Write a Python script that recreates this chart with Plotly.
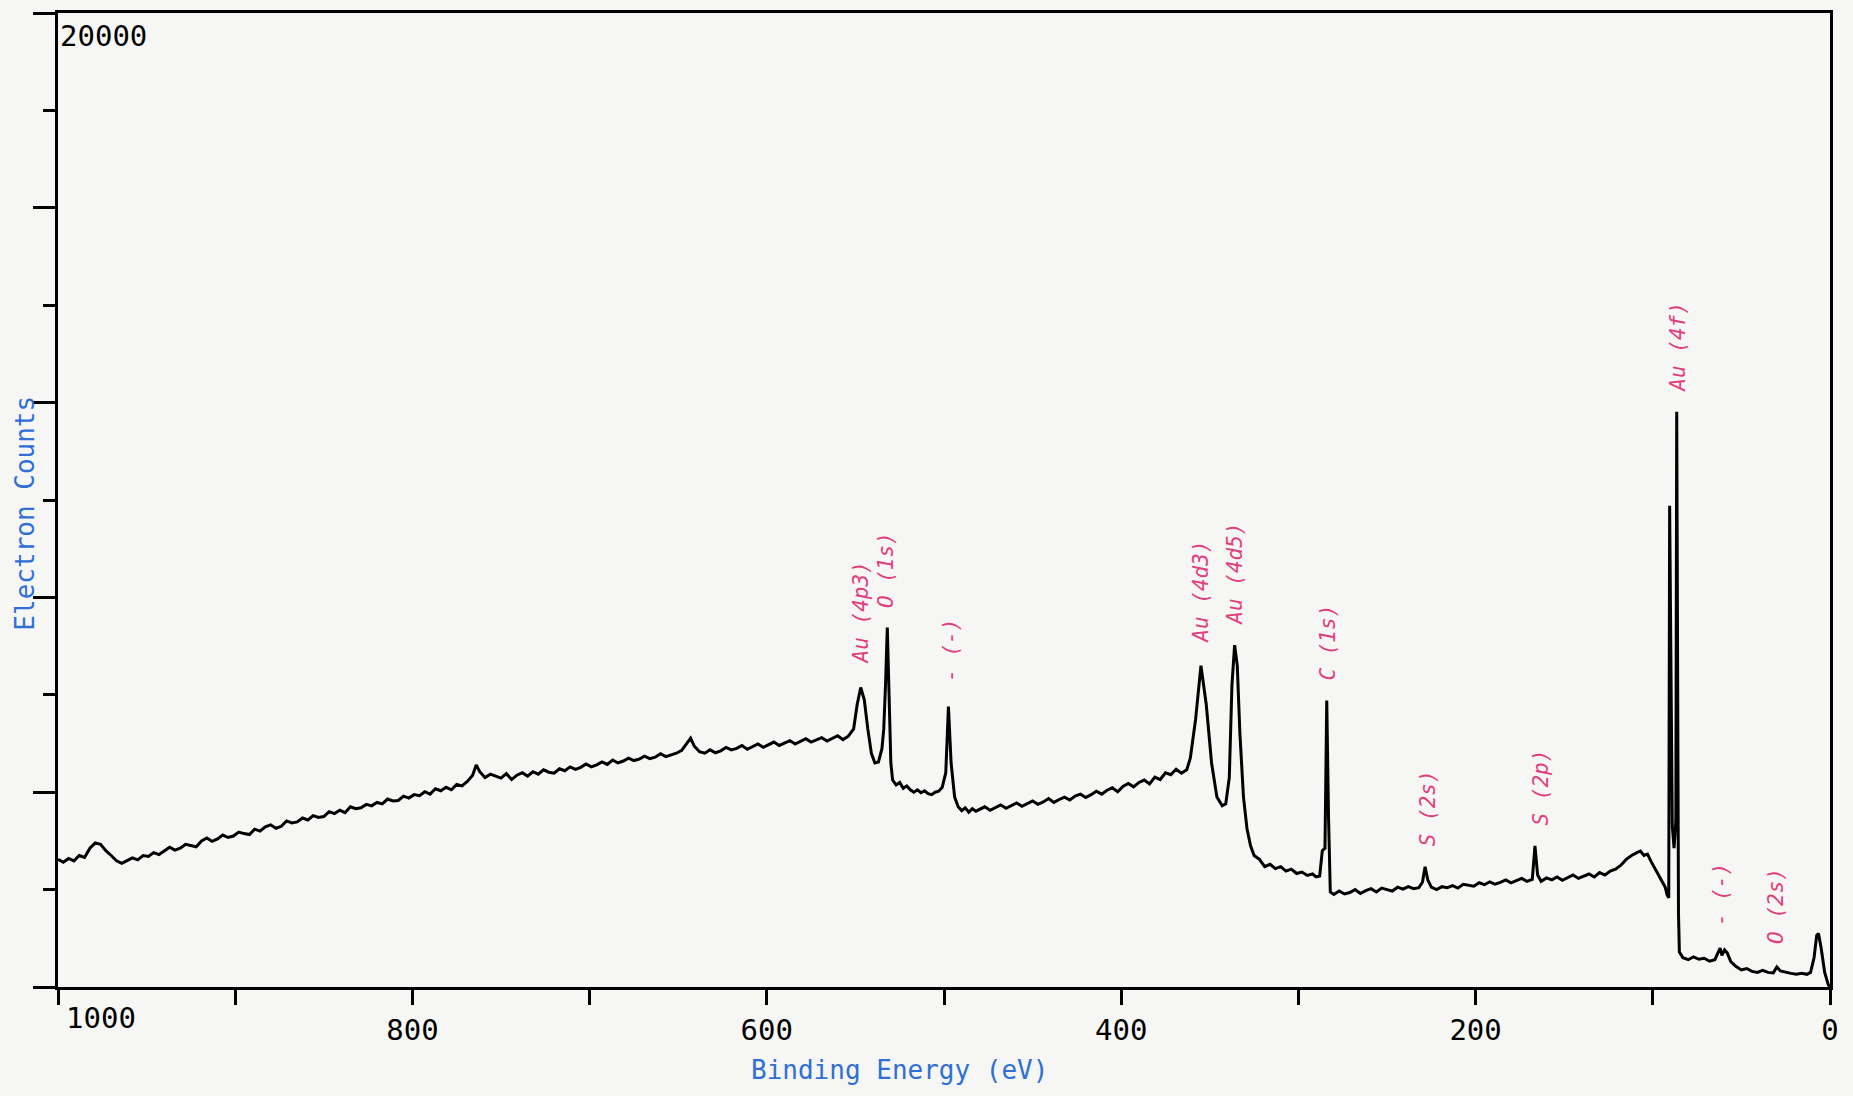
import plotly.graph_objects as go

# ---- spectrum data (binding energy in eV, electron counts) ----
energy = [
    1000, 997, 994, 991, 988, 985, 982, 979, 976, 973, 970, 967, 964,
    961, 958, 955, 952, 949, 946, 943, 940, 937, 934, 931, 928, 925, 922, 919, 916, 913, 910,
    907, 904, 901, 898, 895, 892, 889, 886, 883, 880, 877, 874, 871, 868, 865, 862, 859, 856,
    853, 850, 847, 844, 841, 838, 835, 832, 829, 826, 823, 820, 817, 814, 811, 808, 805, 802,
    799, 796, 793, 790, 787, 784, 781, 778, 775, 772, 769, 766, 764,
    762, 759, 756, 753, 750, 747, 744, 741, 738, 735, 732, 729, 726, 723, 720, 717, 714, 711,
    708, 705, 702, 699, 696, 693, 690, 687, 684, 681, 678, 675, 672, 669, 666, 663, 660, 657,
    654, 651, 648, 645, 643, 641, 638, 635, 632, 629, 626, 623, 620, 617, 614, 611, 608, 605,
    602, 599, 596, 593, 590, 587, 584, 581, 578, 575, 572, 569, 566, 563, 560, 557, 554,
    551, 549, 547, 545, 543, 541, 539, 537, 535, 534, 533, 532, 531, 530, 529, 527, 525, 523,
    521, 519, 517, 515, 513, 511, 509, 507, 505, 503, 501, 499, 497.5, 496, 494, 492, 490,
    488, 486, 484, 482, 480, 477, 474, 471, 468, 465, 462, 459, 456, 453, 450, 447, 444, 441,
    438, 435, 432, 429, 426, 423, 420, 417, 414, 411, 408, 405, 402, 399, 396, 393, 390, 387,
    384, 381, 378, 375, 372, 369, 366, 363,
    361, 358, 355, 352, 349, 346, 343, 341, 339, 337.5, 336, 334.5, 333, 331, 329, 327, 325,
    322, 319, 316, 313, 310, 307, 304, 301, 298, 295, 292, 290, 288, 286.5, 285, 284, 283,
    282, 280, 277, 274, 271, 268, 265, 262, 259, 256, 253, 250, 247, 244, 241, 238, 235, 232,
    230, 228.5, 227,
    225, 222, 219, 216, 213, 210, 207, 204, 201, 198, 195, 192, 189, 186, 183, 180, 177, 174, 171, 168,
    166.5, 165,
    163, 160, 157, 154, 151, 148, 145, 142, 139, 136, 133, 130, 127, 124,
    121, 118, 115, 112, 109, 107, 105, 103, 101, 99, 97, 95, 93, 92, 91, 90.5, 89, 88, 87, 86.5,
    86, 85.5, 85, 83, 80, 77, 74, 71, 68, 65, 62, 61, 59.5, 58, 56, 53, 50, 47, 44, 41,
    38, 35, 32, 30, 28, 25, 22, 19, 16, 13, 11, 9, 7.5, 6.5, 5, 3, 1, 0,
]
counts = [
    2620, 2560, 2640, 2590, 2700, 2660, 2850, 2960, 2930, 2800, 2700, 2590, 2540,
    2590, 2650, 2610, 2700, 2680, 2760, 2720, 2790, 2870, 2810, 2850, 2930, 2900, 2880, 3000, 3060, 2990, 3040,
    3120, 3070, 3100, 3180, 3150, 3130, 3240, 3200, 3290, 3330, 3260, 3300, 3410, 3370, 3390, 3470, 3430, 3520,
    3480, 3500, 3600, 3560, 3630, 3580, 3700, 3660, 3680, 3750, 3720, 3790, 3760, 3860, 3820, 3830, 3920, 3880,
    3950, 3930, 4010, 3960, 4070, 4030, 4100, 4050, 4160, 4130, 4220, 4350, 4560,
    4420, 4300, 4370, 4330, 4290, 4380, 4260, 4350, 4400, 4330, 4420, 4370, 4460, 4410, 4390, 4480, 4440, 4520,
    4470, 4510, 4580, 4520, 4560, 4620, 4570, 4660, 4600, 4640, 4700, 4650, 4680, 4740, 4690, 4720, 4790, 4730,
    4760, 4800, 4860, 5000, 5110, 4950, 4830, 4800, 4870, 4810, 4850, 4920, 4870, 4900, 4960, 4880, 4940, 4990,
    4920, 4970, 5030, 4960, 5010, 5060, 4990, 5040, 5100, 5030, 5070, 5120, 5050, 5100, 5160, 5080, 5150,
    5300, 5800, 6150, 5900, 5300, 4800, 4600, 4620, 4900, 5300, 6200, 7380, 6000, 4600, 4250, 4150, 4200, 4080,
    4130, 4050, 4000, 4050, 3990, 4030, 3970, 3950, 4000, 4020, 4100, 4400, 5760, 4600, 3900, 3700, 3620,
    3680, 3590, 3660, 3610, 3640, 3700, 3630, 3680, 3740, 3670, 3720, 3780, 3710, 3760, 3820, 3750, 3800, 3870,
    3790, 3850, 3900, 3840, 3920, 3960, 3890, 3950, 4020, 3960, 4040, 4090, 4010, 4120, 4180, 4110, 4200, 4250,
    4170, 4310, 4260, 4400, 4360, 4470, 4390, 4460,
    4700, 5500, 6600, 5800, 4600, 3900, 3720, 3760, 4300, 6200, 7020, 6600, 5200, 3900, 3250, 2900, 2700,
    2620, 2470, 2520, 2430, 2470, 2380, 2420, 2330, 2360, 2290, 2320, 2260, 2280, 2800, 2850, 5880, 3500,
    1950, 1900, 1970, 1910, 1940, 2000, 1920, 1980, 2020, 1950, 2030, 2000, 1970, 2050, 2010, 2060, 2020, 2040,
    2150, 2470, 2200,
    2050, 2000, 2060, 2040, 2080, 2030, 2110, 2090, 2070, 2140, 2100, 2160, 2110, 2150, 2200, 2140, 2190, 2230, 2170, 2210,
    2900, 2300,
    2170, 2240, 2200, 2260, 2190, 2250, 2300, 2230, 2280, 2320, 2260, 2350, 2300, 2380,
    2420, 2500, 2620, 2700, 2760, 2790, 2700, 2730, 2580, 2450, 2300, 2200, 2050, 1900, 1830, 9880, 3300, 2850, 3400, 11810,
    4000, 1500, 720, 600, 560, 620, 570, 590, 530, 560, 800, 650, 760, 700, 520, 420, 350, 380, 320, 300,
    340, 300, 290, 410, 330, 300, 280, 260, 280, 260, 300, 600, 1060, 1100, 800, 300, 50, 0,
]

# ---- peak labels ----
peak_names = ["Au (4p3)", "O (1s)", "- (-)", "Au (4d3)", "Au (4d5)", "C (1s)",
              "S (2s)", "S (2p)", "Au (4f)", "- (-)", "O (2s)"]
peak_energy = [546.6, 532.6, 496.5, 355, 336, 283.5, 226.7, 163.3, 85.8, 61.8, 30.4]
label_base = [6582, 7744, 6219, 7018, 7381, 6244, 2856, 3267, 12173, 1210, 847]

x_tick_vals = [800, 600, 400, 200, 0]
x_tick_text = ["800", "600", "400", "200", "0"]

FONT = "DejaVu Sans Mono, monospace"
BLUE = "#2f6fd6"
PINK = "#e23d7d"
BG = "#f6f6f4"

fig = go.Figure()
fig.add_trace(go.Scatter(x=energy, y=counts, mode="lines",
                         line=dict(color="black", width=3), showlegend=False,
                         hoverinfo="skip"))

annotations = []
for name, e, base in zip(peak_names, peak_energy, label_base):
    annotations.append(dict(x=e, y=base, xref="x", yref="y", text=name,
                            showarrow=False, textangle=-90,
                            xanchor="center", yanchor="bottom",
                            font=dict(family=FONT, size=21, color=PINK, style="italic")))

annotations += [
    dict(text="20000", xref="paper", yref="paper", x=0, y=1, xanchor="left", yanchor="top",
         xshift=0, yshift=-4, showarrow=False, font=dict(family=FONT, size=29, color="black")),
    dict(text="1000", xref="paper", yref="paper", x=0, y=0, xanchor="left", yanchor="top",
         xshift=6, yshift=-12, showarrow=False, font=dict(family=FONT, size=29, color="black")),
    dict(text="Binding Energy (eV)", xref="paper", yref="paper", x=0.475, y=0,
         xanchor="center", yanchor="middle", yshift=-83, showarrow=False,
         font=dict(family=FONT, size=26, color=BLUE)),
    dict(text="Electron Counts", xref="paper", yref="paper", x=0, y=0.486,
         xanchor="center", yanchor="middle", xshift=-33, textangle=-90, showarrow=False,
         font=dict(family=FONT, size=26, color=BLUE)),
]

# page body keeps an 8px default margin: size the figure so the plot area lands
# at x 58..1830, y 10..987 of the 1853x1096 window
fig.update_layout(
    width=1837, height=1080,
    margin=dict(l=50, r=15, t=2, b=101),
    paper_bgcolor=BG, plot_bgcolor=BG,
    annotations=annotations,
    xaxis=dict(range=[1000, 0], showgrid=False, zeroline=False,
               showline=True, linecolor="black", linewidth=3, mirror=True,
               ticks="outside", ticklen=15, tickwidth=3, tickcolor="black",
               tickvals=x_tick_vals, ticktext=x_tick_text,
               tickfont=dict(family=FONT, size=29, color="black"),
               minor=dict(dtick=100, tick0=0, ticks="outside", ticklen=15,
                          tickwidth=3, tickcolor="black")),
    yaxis=dict(range=[0, 20000], showgrid=False, zeroline=False,
               showline=True, linecolor="black", linewidth=3, mirror=True,
               ticks="outside", ticklen=22, tickwidth=3, tickcolor="black",
               dtick=4000, tick0=0, showticklabels=False,
               minor=dict(dtick=2000, ticks="outside", ticklen=12,
                          tickwidth=3, tickcolor="black")),
)

fig.write_html("out.html", post_script="document.body.style.background='%s';" % BG)
